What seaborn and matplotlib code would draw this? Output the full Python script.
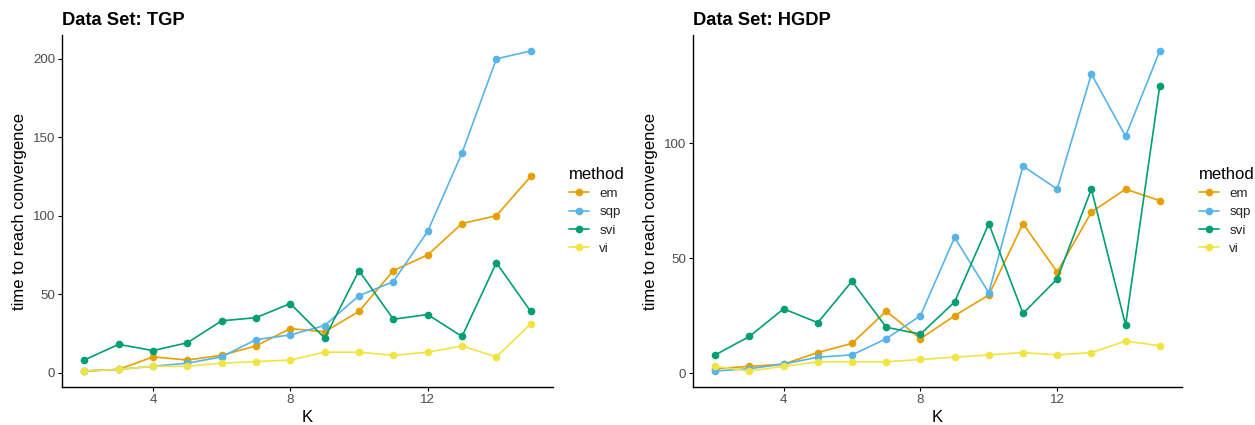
import matplotlib
matplotlib.use('Agg')
import matplotlib.pyplot as plt
import seaborn as sns
import pandas as pd
import numpy as np

sns.set_theme(style='ticks')
plt.rcParams['font.family'] = ['Liberation Sans', 'DejaVu Sans']

K = list(range(2, 16))
methods = ['em', 'sqp', 'svi', 'vi']
palette = {'em': '#E69F00', 'sqp': '#56B4E9', 'svi': '#009E73', 'vi': '#F0E442'}

# TGP
tgp_em = [1, 2, 10, 8, 11, 17, 28, 26, 39, 65, 75, 95, 100, 125]
tgp_sqp = [1, 2, 4, 6, 10, 21, 24, 30, 49, 58, 90, 140, 200, 205]
tgp_svi = [8, 18, 14, 19, 33, 35, 44, 22, 65, 34, 37, 23, 70, 39]
tgp_vi = [1, 2, 4, 4, 6, 7, 8, 13, 13, 11, 13, 17, 10, 31]

# HGDP
hgdp_em = [2, 3, 4, 9, 13, 27, 15, 25, 34, 65, 44, 70, 80, 75]
hgdp_sqp = [1, 2, 4, 7, 8, 15, 25, 59, 35, 90, 80, 130, 103, 140]
hgdp_svi = [8, 16, 28, 22, 40, 20, 17, 31, 65, 26, 41, 80, 21, 125]
hgdp_vi = [3, 1, 3, 5, 5, 5, 6, 7, 8, 9, 8, 9, 14, 12]


def make_df(em, sqp, svi, vi):
    rows = []
    for m, vals in zip(methods, [em, sqp, svi, vi]):
        for k, v in zip(K, vals):
            rows.append({'K': k, 'time': v, 'method': m})
    return pd.DataFrame(rows)


datasets = [('TGP', make_df(tgp_em, tgp_sqp, tgp_svi, tgp_vi), [0, 50, 100, 150, 200]),
            ('HGDP', make_df(hgdp_em, hgdp_sqp, hgdp_svi, hgdp_vi), [0, 50, 100])]

fig = plt.figure(figsize=(12.55, 4.25), dpi=100)
W, H = 1255.0, 425.0
boxes = [(62, 35, 553, 387), (693, 35, 1182, 387)]
leg_x = [566, 1196]

for (name, df, yticks), (x0, y0, x1, y1), lx in zip(datasets, boxes, leg_x):
    ax = fig.add_axes([x0 / W, 1 - y1 / H, (x1 - x0) / W, (y1 - y0) / H])
    sns.lineplot(data=df, x='K', y='time', hue='method', hue_order=methods,
                 palette=palette, marker='o', markersize=5.5, markeredgewidth=0,
                 linewidth=1.2, ax=ax)
    lo, hi = df['time'].min(), df['time'].max()
    pad = 0.05 * (hi - lo)
    ax.set_ylim(lo - pad, hi + pad)
    ax.set_xlim(2 - 0.65, 15 + 0.65)
    ax.set_xticks([4, 8, 12])
    ax.set_yticks(yticks)
    ax.tick_params(axis='both', labelsize=9.6, labelcolor='#4D4D4D', color='black',
                   length=3, width=0.8, pad=2)
    for s in ['top', 'right']:
        ax.spines[s].set_visible(False)
    for s in ['left', 'bottom']:
        ax.spines[s].set_color('black')
        ax.spines[s].set_linewidth(1.0)
    ax.set_xlabel('K', fontsize=12, color='black', labelpad=3)
    ax.set_ylabel('time to reach convergence', fontsize=12, color='black', labelpad=4)
    ax.set_title('Data Set: %s' % name, loc='left', fontsize=13.2, fontweight='bold',
                 color='black', pad=7)
    ax.title.set_x(-(x0 - 64) / (x1 - x0))
    handles, labels = ax.get_legend_handles_labels()
    leg = ax.legend(handles, labels, title='method', frameon=False, fontsize=9.6,
                    title_fontsize=12, loc='upper left',
                    bbox_to_anchor=((lx - x0) / (x1 - x0), 1 - (164 - y0) / (y1 - y0)),
                    handlelength=1.5, handletextpad=0.8, labelspacing=0.45,
                    alignment='left', borderaxespad=0, borderpad=0.2)
    leg.get_title().set_color('black')

fig.savefig('out.png', dpi=100)
